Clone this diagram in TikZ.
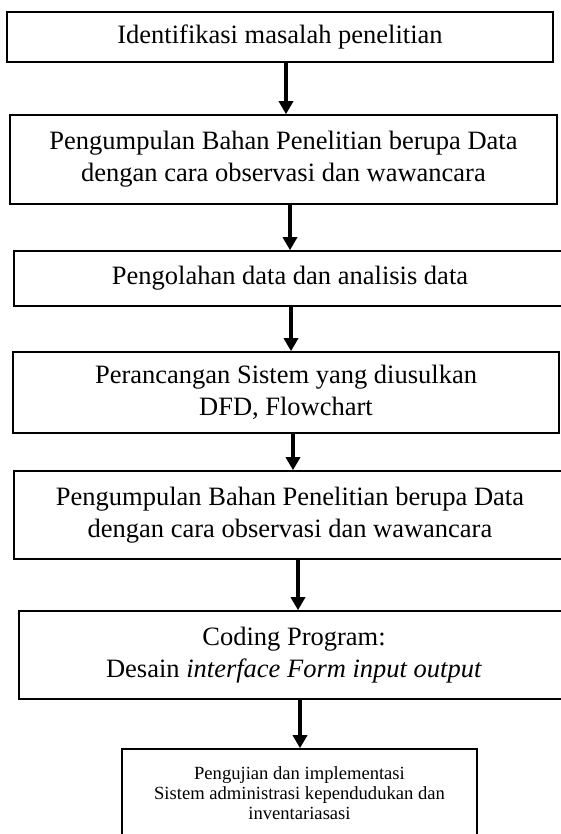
\documentclass[tikz,border=0pt]{standalone}
\usepackage{fontspec}
\setmainfont{Liberation Serif}
\usepackage{tikz}
\usetikzlibrary{arrows.meta}

\tikzset{
  blok/.style={draw, line width=1.6pt, align=center, inner sep=0pt,
    font=\fontsize{26.5pt}{32pt}\selectfont},
  blokkecil/.style={blok, font=\fontsize{18.6pt}{20pt}\selectfont},
  panah/.style={line width=4pt, -{Triangle[width=14pt,length=13pt]}}
}

\begin{document}
\begin{tikzpicture}[x=1pt, y=-1pt]
  \useasboundingbox (0,0) rectangle (560,834);
  % tahapan penelitian
  \node[blok, minimum width=546pt, minimum height=50pt] (b1) at (280,37)
    {Identifikasi masalah penelitian};
  \node[blok, minimum width=547pt, minimum height=89pt] (b2) at (283.5,159.5)
    {Pengumpulan Bahan Penelitian berupa Data\\ dengan cara observasi dan wawancara};
  \node[blok, minimum width=552pt, minimum height=55pt] (b3) at (290,278.5)
    {Pengolahan data dan analisis data};
  \node[blok, minimum width=546pt, minimum height=81pt] (b4) at (286,392.5)
    {Perancangan Sistem yang diusulkan\\ DFD, Flowchart};
  \node[blok, minimum width=552pt, minimum height=88pt] (b5) at (290,515)
    {Pengumpulan Bahan Penelitian berupa Data\\ dengan cara observasi dan wawancara};
  \node[blok, minimum width=550pt, minimum height=88pt] (b6) at (294,655)
    {Coding Program:\\ Desain \textit{interface Form input output}};
  \node[blokkecil, minimum width=355pt, minimum height=88pt] (b7) at (299.5,793)
    {Pengujian dan implementasi\\ Sistem administrasi kependudukan dan\\ inventariasasi};
  % alur
  \path[panah]
  ([xshift=6pt]b1.south) edge ([xshift=2.5pt]b2.north)
  ([xshift=6.5pt]b2.south) edge ([xshift=0pt]b3.north)
  ([xshift=1pt]b3.south) edge ([xshift=5pt]b4.north)
  ([xshift=7pt]b4.south) edge ([xshift=3pt]b5.north)
  ([xshift=8pt]b5.south) edge ([xshift=4pt]b6.north)
  ([xshift=6pt]b6.south) edge ([xshift=0.5pt]b7.north);
\end{tikzpicture}
\end{document}
